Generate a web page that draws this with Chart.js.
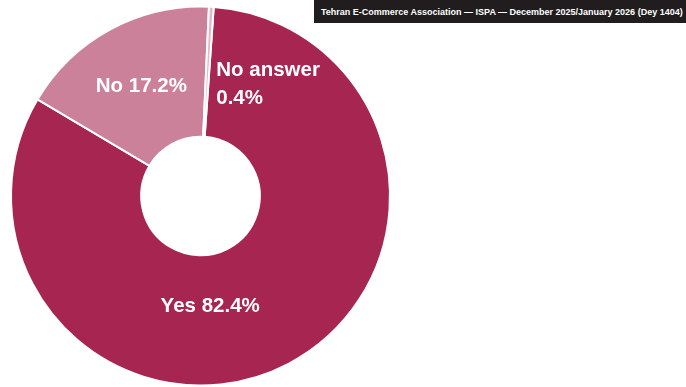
<!DOCTYPE html>
<html>
<head>
<meta charset="utf-8">
<script src="https://cdn.jsdelivr.net/npm/chart.js@4"></script>
<style>
    html, body {
        margin: 0;
        padding: 0;
        background: #ffffff;
        overflow: hidden;
        width: 686px;
        height: 387px;
        font-family: "Liberation Sans", Arial, sans-serif;
    }
    #wrap {
        position: absolute;
        left: 0;
        top: 0;
        width: 401px;
        height: 392px;
    }
    #source {
        position: absolute;
        left: 314px;
        top: 0;
        width: 372px;
        height: 23px;
        line-height: 24px;
        padding-left: 7px;
        box-sizing: border-box;
        background: #211d1e;
        color: #ffffff;
        font-weight: bold;
        font-size: 9px;
        white-space: nowrap;
        overflow: hidden;
    }
    #source span {
        display: inline-block;
        transform-origin: left center;
    }
</style>
</head>
<body>
<div id="wrap"><canvas id="chart"></canvas></div>
<div id="source"><span id="sourceText">Tehran E-Commerce Association — ISPA — December 2025/January 2026 (Dey 1404)</span></div>
<script>
'use strict';

var categories = ['Yes', 'No', 'No answer'];
var shares = [82.4, 17.2, 0.4];
var sliceColors = ['#a62651', '#cb8199', '#e5b6c8'];

// label placement: angle in degrees clockwise from 12 o'clock, null = slice middle
var labelSetup = {
    'Yes': { angle: 175, radius: 111, align: 'center' },
    'No': { angle: null, radius: null, align: 'center' },
    'No answer': { angle: 8, radius: 113, align: 'left', split: true }
};

// stretch the source line so it fills the dark bar
var src = document.getElementById('sourceText');
var srcWidth = src.offsetWidth;
if (srcWidth > 0) {
    src.style.transform = 'scaleX(' + (362 / srcWidth) + ')';
}

var sliceLabels = {
    id: 'sliceLabels',
    afterDatasetsDraw: function(chart) {
        var ctx = chart.ctx;
        var meta = chart.getDatasetMeta(0);
        ctx.save();
        ctx.fillStyle = '#ffffff';
        ctx.font = 'bold 20.5px "Liberation Sans", Arial, sans-serif';
        ctx.textBaseline = 'middle';
        meta.data.forEach(function(arc, i) {
            var p = arc.getProps(['x', 'y', 'startAngle', 'endAngle', 'innerRadius', 'outerRadius'], true);
            var name = categories[i];
            var setup = labelSetup[name];
            var ang = setup.angle === null ? (p.startAngle + p.endAngle) / 2 : (setup.angle - 90) * Math.PI / 180;
            var r = setup.radius === null ? (p.innerRadius + p.outerRadius) / 2 : setup.radius;
            var x = p.x + Math.cos(ang) * r;
            var y = p.y + Math.sin(ang) * r;
            var pct = shares[i].toFixed(1) + '%';
            ctx.textAlign = setup.align;
            if (setup.split) {
                ctx.fillText(name, x, y - 14);
                ctx.fillText(pct, x, y + 14);
            } else {
                ctx.fillText(name + ' ' + pct, x, y);
            }
        });
        ctx.restore();
    }
};

new Chart(document.getElementById('chart'), {
    type: 'doughnut',
    data: {
        labels: categories,
        datasets: [{
            data: shares,
            backgroundColor: sliceColors,
            borderColor: '#ffffff',
            borderWidth: 2
        }]
    },
    options: {
        responsive: true,
        maintainAspectRatio: false,
        animation: false,
        rotation: 4,
        radius: 189.5,
        cutout: 61,
        layout: { padding: 0 },
        plugins: {
            legend: { display: false },
            tooltip: { enabled: false },
            title: { display: false }
        }
    },
    plugins: [sliceLabels]
});
</script>
</body>
</html>
